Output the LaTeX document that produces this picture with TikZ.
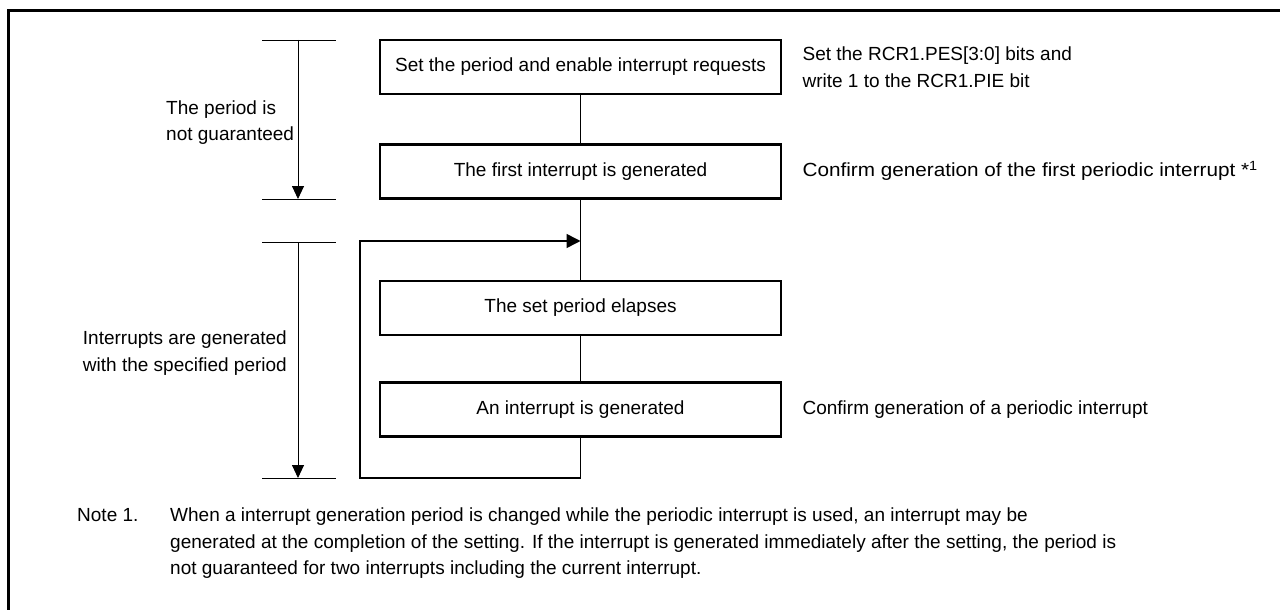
\documentclass[tikz,border=0pt]{standalone}
\usepackage{graphicx}
\usepackage{fontspec}
\setmainfont{Liberation Sans}
\usetikzlibrary{positioning, arrows.meta}

\begin{document}
\begin{tikzpicture}[x=1pt, y=-1pt, >={Triangle[length=13pt,width=12pt]},
    every node/.style={font=\fontsize{19}{26.5}\selectfont, inner sep=0pt},
    b/.style={draw, line width=2.8pt, minimum width=401pt,
              minimum height=54pt, align=center},
    flow/.style={line width=1.5pt},
    dim/.style={line width=0.9pt},
    frame/.style={line width=3pt}]
  \useasboundingbox (0,0) rectangle (1280,610);
  \draw[frame] (8,610) -- (8,11) -- (1280,11);
  % flow boxes
  \node[b] (b1) at (580.5,67) {Set the period and enable interrupt requests};
  \node[b] (b2) [below=48pt of b1] {The first interrupt is generated};
  \node[b] (b3) at (580.5,308) {The set period elapses};
  \node[b] (b4) [below=45pt of b3] {An interrupt is generated};
  % remarks on the right
  \node[right=20pt of b1, align=left] (n1)
        {Set the RCR1.PES[3:0] bits and\\write 1 to the RCR1.PIE bit};
  \node[right=20pt of b2, yshift=1pt] (n2)
        {\scalebox{1.09}[1]{Confirm generation of the first periodic interrupt *\textsuperscript{1}}};
  \node[right=20pt of b4] (n4) {Confirm generation of a periodic interrupt};
  % loop
  \coordinate (join) at (580.5,241);
  \coordinate (lp1) at (360,478);
  \coordinate (lp2) at (360,241);
  \draw[flow] (b1) -- (b2);
  \draw[flow] (b2) -- (b3);
  \draw[flow] (b3) -- (b4);
  \draw[flow, ->, >={Triangle[length=14pt,width=14pt]}]
        (b4.south) |- (lp1) -- (lp2) -- (join);
  % time spans on the left
  \coordinate (t1) at (298,40);
  \coordinate (t2) at (298,199);
  \coordinate (t3) at (298,242);
  \coordinate (t4) at (298,478);
  \foreach \c in {t1,t2,t3,t4}
    \draw[dim] ([xshift=-36pt]\c) -- ([xshift=38pt]\c);
  \draw[dim, ->] (t1) -- (t2);
  \draw[dim, ->] (t3) -- (t4);
  \node[align=left, anchor=west] (s1) at (166,122.5)
        {The period is\\not guaranteed};
  \node[align=right, anchor=east] (s2) at (287,353)
        {Interrupts are generated\\with the specified period};
  % note
  \node[anchor=north west] (nt) at (77,508) {Note 1.};
  \node[anchor=north west, align=left] (ntx) at (170,508)
        {When a interrupt generation period is changed while the periodic interrupt is used, an interrupt may be\\
         generated at the completion of the setting. If the interrupt is generated immediately after the setting, the period is\\
         not guaranteed for two interrupts including the current interrupt.};
\end{tikzpicture}
\end{document}
